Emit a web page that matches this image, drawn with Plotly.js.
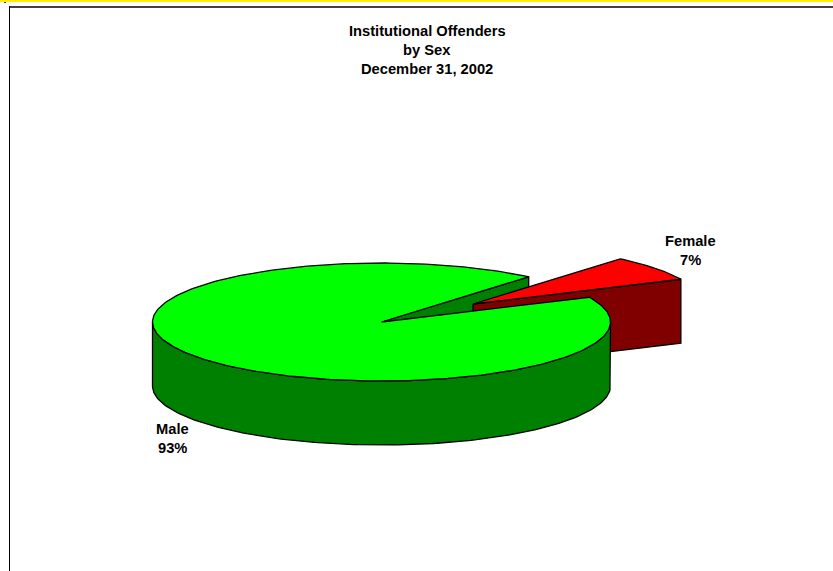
<!DOCTYPE html>
<html>
<head>
<meta charset="utf-8">
<script src="https://cdn.plot.ly/plotly-3.0.1.min.js"></script>
<style>html,body{margin:0;padding:0;background:#fff;overflow:hidden}#chart{width:833px;height:571px}</style>
</head>
<body>
<div id="chart"></div>
<script>
// Data
const categories = ["Male", "Female"];
const shares = [93, 7];
const titleLines = ["Institutional Offenders", "by Sex", "December 31, 2002"];

// Pie projection settings
const pie = {cx: 381.5, cy: 322, rx: 229, ry: 59, depth: 64, startDeg: 50, explodeX: 91.5, explodeY: -18};
const colors = {Male: {top: "#00ff00", side: "#008000"}, Female: {top: "#ff0000", side: "#800000"}};

const total = shares.reduce((a, b) => a + b, 0);
const femaleSweep = shares[1] / total * 360;
const maleStart = pie.startDeg;                    // going counter-clockwise through the left side
const maleEnd = pie.startDeg - femaleSweep + 360;
const femaleStart = pie.startDeg - femaleSweep;
const femaleEnd = pie.startDeg;

function pt(deg, ox, oy, drop) {
  const a = deg * Math.PI / 180;
  return [pie.cx + (ox || 0) + pie.rx * Math.cos(a), pie.cy + (oy || 0) - pie.ry * Math.sin(a) + (drop || 0)];
}
function arc(d0, d1, ox, oy, drop) {
  const out = [], n = Math.max(2, Math.ceil(Math.abs(d1 - d0)));
  for (let i = 0; i <= n; i++) out.push(pt(d0 + (d1 - d0) * i / n, ox, oy, drop));
  return out;
}
function poly(points, fill, name) {
  const closed = points.concat([points[0]]);
  return {
    type: "scatter", mode: "lines", name: name, showlegend: false, hoverinfo: "skip",
    x: closed.map(p => p[0]), y: closed.map(p => p[1]),
    fill: "toself", fillcolor: fill,
    line: {color: "#000000", width: 1.3, shape: "linear"}
  };
}

const c = [pie.cx, pie.cy];
const cDown = [pie.cx, pie.cy + pie.depth];
const fx = pie.explodeX, fy = pie.explodeY;
const fTip = [pie.cx + fx, pie.cy + fy];
const fTipDown = [pie.cx + fx, pie.cy + fy + pie.depth];

const traces = [
  // Wall of the male slice exposed by the gap
  poly([c, pt(maleStart), pt(maleStart, 0, 0, pie.depth), cDown], colors.Male.side, "Male wall"),
  // Exploded female slice: inner wall, then top
  poly([fTip, pt(femaleStart, fx, fy), pt(femaleStart, fx, fy, pie.depth), fTipDown], colors.Female.side, "Female wall"),
  poly([fTip].concat(arc(femaleStart, femaleEnd, fx, fy)), colors.Female.top, "Female"),
  // Male rim (front half), then top
  poly(arc(180, 360).concat(arc(360, 180, 0, 0, pie.depth)), colors.Male.side, "Male rim"),
  poly([c].concat(arc(maleStart, maleEnd)), colors.Male.top, "Male")
];

const textFont = {family: "Liberation Sans, Arial, sans-serif", size: 14.7, color: "#000000"};
function label(text, x, y) {
  return {text: "<b>" + text + "</b>", x: x, y: y, xref: "x", yref: "y", showarrow: false,
          xanchor: "center", yanchor: "middle", font: textFont};
}
const annotations = [
  label(titleLines[0], 427, 31), label(titleLines[1], 427, 50), label(titleLines[2], 427, 69),
  label(categories[0], 172.5, 429), label(shares[0] + "%", 172.5, 448),
  label(categories[1], 690, 241), label(shares[1] + "%", 690, 260)
];

const layout = {
  width: 833, height: 571,
  margin: {l: 0, r: 0, t: 0, b: 0},
  paper_bgcolor: "#ffffff", plot_bgcolor: "#ffffff",
  showlegend: false,
  xaxis: {range: [0, 833], visible: false, fixedrange: true},
  yaxis: {range: [571, 0], visible: false, fixedrange: true},
  annotations: annotations,
  shapes: [
    {type: "rect", xref: "x", yref: "y", x0: 0, x1: 833, y0: 0, y1: 2, fillcolor: "#ffee00", line: {width: 0}, layer: "above"},
    {type: "rect", xref: "x", yref: "y", x0: 4, x1: 6, y0: 2, y1: 3, fillcolor: "#404010", line: {width: 0}, layer: "above"},
    {type: "rect", xref: "x", yref: "y", x0: 9, x1: 833, y0: 6, y1: 8, fillcolor: "#404040", line: {width: 0}, layer: "above"},
    {type: "rect", xref: "x", yref: "y", x0: 9, x1: 10, y0: 6, y1: 571, fillcolor: "#000000", line: {width: 0}, layer: "above"}
  ]
};

Plotly.newPlot("chart", traces, layout, {displayModeBar: false, staticPlot: true});
</script>
</body>
</html>
